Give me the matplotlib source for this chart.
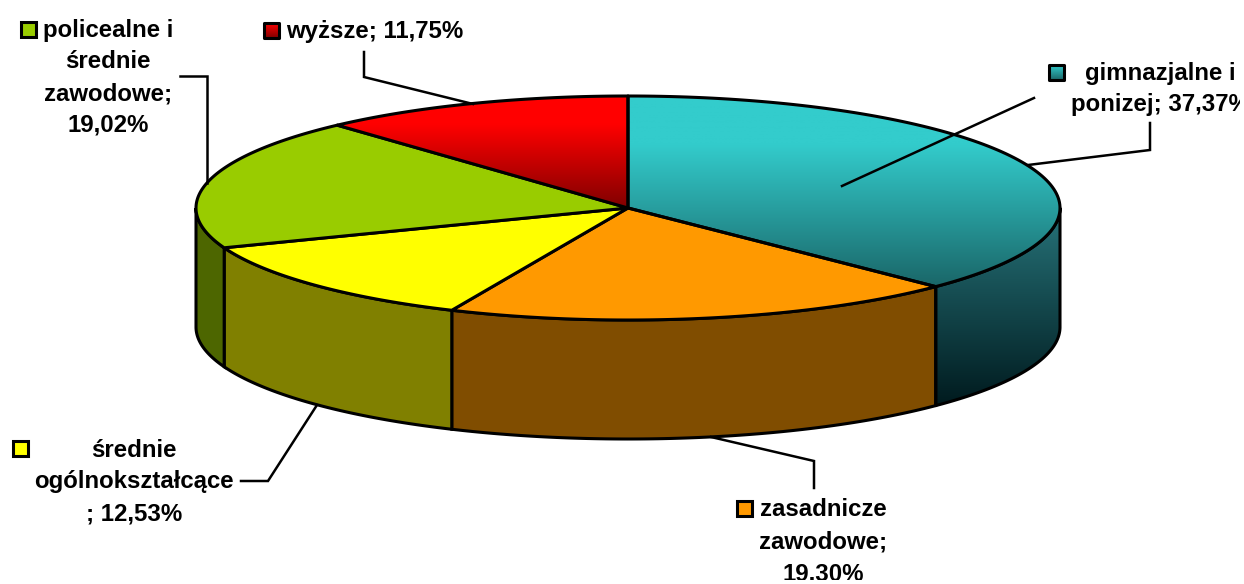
import numpy as np
import matplotlib
matplotlib.use('Agg')
import matplotlib.pyplot as plt
from matplotlib.patches import Polygon, Rectangle

# slices, clockwise from 12 o'clock
labels = ["gimnazjalne i ponizej", "zasadnicze zawodowe", "średnie ogólnokształcące",
          "policealne i średnie zawodowe", "wyższe"]
values = [37.37, 19.30, 12.53, 19.02, 11.75]
top_colors = ["#33CCCC", "#FF9900", "#FFFF00", "#99CC00", "#FF0000"]
side_colors = ["#33CCCC", "#804D00", "#808000", "#4D6600", "#800000"]

pct = [("%.2f%%" % v).replace(".", ",") for v in values]

W, H = 1244, 584
cx, cy, rx, ry, depth = 628, 208, 432, 112, 119
EDGE = 2.2

plt.rcParams['font.family'] = ['Liberation Sans', 'DejaVu Sans']
fig = plt.figure(figsize=(W/100, H/100), dpi=100)
ax = fig.add_axes([0, 4/H, 1240/W, 580/H])
ax.axis('off')


def rim(t0, t1, dy=0):
    t = np.radians(np.linspace(t0, t1, 120))
    return np.column_stack([cx+rx*np.sin(t), cy+dy-ry*np.cos(t)])


def hex_rgb(c):
    return np.array(matplotlib.colors.to_rgb(c))


def gradient_fill(pts, stops, zorder):
    # vertical gradient clipped to the outline
    patch = Polygon(pts, closed=True, fc='none', ec='k', lw=EDGE, zorder=zorder+0.1, joinstyle='round')
    ax.add_patch(patch)
    y0, y1 = pts[:, 1].min(), pts[:, 1].max()
    pos = np.linspace(0, 1, 256)
    img = np.column_stack([np.interp(pos, [s[0] for s in stops], [hex_rgb(s[1])[i] for s in stops]) for i in range(3)])
    im = ax.imshow(img[:, None, :], extent=[pts[:, 0].min(), pts[:, 0].max(), y1, y0], aspect='auto', zorder=zorder)
    im.set_clip_path(patch)


angles = np.concatenate([[0], np.cumsum(values)]) * 360 / sum(values)

# rim, only the front half of the cylinder shows
for i in range(len(values)):
    a0, a1 = max(angles[i], 90), min(angles[i+1], 270)
    if a0 >= a1:
        continue
    pts = np.vstack([rim(a0, a1), rim(a0, a1, depth)[::-1]])
    if i == 0:
        gradient_fill(pts, [(0, "#27747A"), (1, "#001A1E")], 2)
    else:
        ax.add_patch(Polygon(pts, closed=True, fc=side_colors[i], ec='k', lw=EDGE, zorder=2))

# top face
for i in range(len(values)):
    pts = np.vstack([[cx, cy], rim(angles[i], angles[i+1])])
    if i == 0:
        gradient_fill(pts, [(0, "#33CCCC"), (0.25, "#33CCCC"), (1, "#1A6668")], 3)
    elif i == 4:
        gradient_fill(pts, [(0, "#FF0000"), (0.25, "#FF0000"), (1, "#800000")], 3)
    else:
        ax.add_patch(Polygon(pts, closed=True, fc=top_colors[i], ec='k', lw=EDGE, zorder=3))

# leader lines
leaders = [
    ([1150, 1150, 1028], [123, 150, 165]),
    ([814, 814, 711], [488, 461, 437]),
    ([241, 268, 317], [481, 481, 405]),
    ([180, 207, 207], [76, 76, 183]),
    ([364, 364, 473], [52, 77, 104]),
    ([1034, 842], [98, 186]),
]
for lx, ly in leaders:
    ax.plot(lx, ly, color='k', lw=1.8, zorder=4, solid_joinstyle='miter', clip_on=False)

# label lines: text, x centre, baseline
fs = 24*0.72
lines = [
    ("policealne i", 108, 37), ("średnie", 108, 68.5), ("zawodowe;", 108, 100), (pct[3], 108, 131.5),
    ("wyższe; " + pct[4], 374.5, 38),
    ("gimnazjalne i", 1160, 80), ("ponizej; " + pct[0], 1160, 111),
    ("średnie", 134, 457), ("ogólnokształcące", 134, 488), ("; " + pct[2], 134, 520),
    ("zasadnicze", 823, 516), ("zawodowe;", 823, 548), (pct[1], 823, 580),
]
for s, x, y in lines:
    ax.text(x, y, s, ha='center', va='baseline', fontsize=fs, fontweight='bold', color='k',
            clip_on=True, zorder=5)

# legend keys
keys = [(1049, 65, 0), (737, 501, 1), (13, 441, 2), (21, 22, 3), (264, 23, 4)]
for kx, ky, i in keys:
    s = 15
    if i == 0 or i == 4:
        dark = "#1A6668" if i == 0 else "#800000"
        pts = np.array([[kx, ky], [kx+s, ky], [kx+s, ky+s], [kx, ky+s]], dtype=float)
        gradient_fill(pts, [(0, top_colors[i]), (1, dark)], 5)
    else:
        ax.add_patch(Rectangle((kx, ky), s, s, fc=top_colors[i], ec='k', lw=EDGE, zorder=5))

ax.set_xlim(0, 1240)
ax.set_ylim(580, 0)
fig.savefig('out.png', dpi=100, facecolor='white')
